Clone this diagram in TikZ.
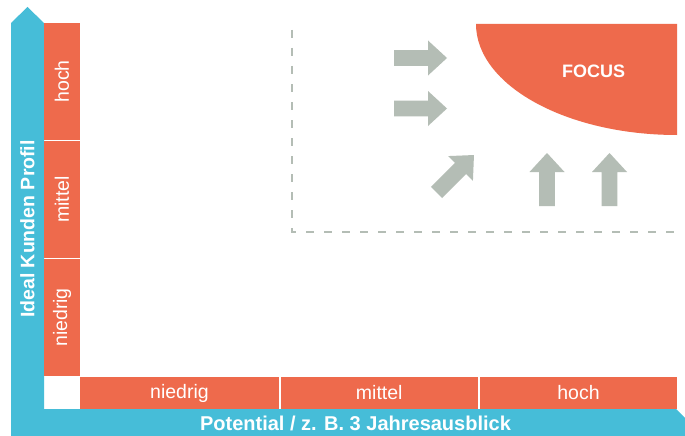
\documentclass[tikz,border=0pt]{standalone}
\usepackage{fontspec}
\setmainfont{Liberation Sans}
\definecolor{orangec}{HTML}{EE6A4C}
\definecolor{bluec}{HTML}{46BDD8}
\definecolor{grayc}{HTML}{B4BDB5}
\begin{document}
\begin{tikzpicture}[x=1pt,y=-1pt,
  cell/.style={fill=orangec,inner sep=0pt,text=white,font=\fontsize{19.5}{19.5}\selectfont},
  axlabel/.style={text=white,font=\bfseries\fontsize{19.5}{19.5}\selectfont,inner sep=0pt},
  garr/.pic={\fill[grayc] (0,-7.8)--(34,-7.8)--(34,-17.5)--(53,0)--(34,17.5)--(34,7.8)--(0,7.8)--cycle;}]
\useasboundingbox[fill=white] (0,0) rectangle (685,436);
% blue axes
\fill[bluec] (11,23)--(27.5,7)--(44,23)--(44,409)--(676,409)--(685,418)--(685,436)--(11,436)--cycle;
\node[axlabel,rotate=90] (ylab) at (27.5,229) {Ideal Kunden Profil};
\node[axlabel,font=\bfseries\fontsize{20}{20}\selectfont] (xlab) at (355.5,423) {Potential / z. B. 3 Jahresausblick};
% vertical cells
\node[cell,rotate=90,minimum width=117,minimum height=36] (vh) at (62,81.5) {hoch};
\node[cell,rotate=90,minimum width=117,minimum height=36] (vm) at (62,199.5) {mittel};
\node[cell,rotate=90,minimum width=117,minimum height=36] (vn) at (62,317.5) {niedrig};
% horizontal cells
\node[cell,minimum width=199,minimum height=32] (hn) at (179.5,393) {niedrig};
\node[cell,minimum width=197.5,minimum height=32] (hm) at (379.25,393) {mittel};
\node[cell,minimum width=197,minimum height=32] (hh) at (578.5,393) {hoch};
% dashed region
\draw[grayc,line width=2.5,dash pattern=on 8 off 10] (292,30)--(292,232)--(683,232);
% focus shape
\fill[orangec] (476,24)--(677,24)--(677,135) .. controls (566,135) and (476,85) .. (476,24)--cycle;
\node[text=white,font=\bfseries\fontsize{18}{18}\selectfont,inner sep=0pt] (focus) at (593.5,71) {FOCUS};
% arrows
\pic at (394,58) {garr};
\pic at (394,108.5) {garr};
\pic[rotate=45] at (436.5,192.5) {garr};
\pic[rotate=90] at (547,206) {garr};
\pic[rotate=90] at (609.5,206) {garr};
\end{tikzpicture}
\end{document}
